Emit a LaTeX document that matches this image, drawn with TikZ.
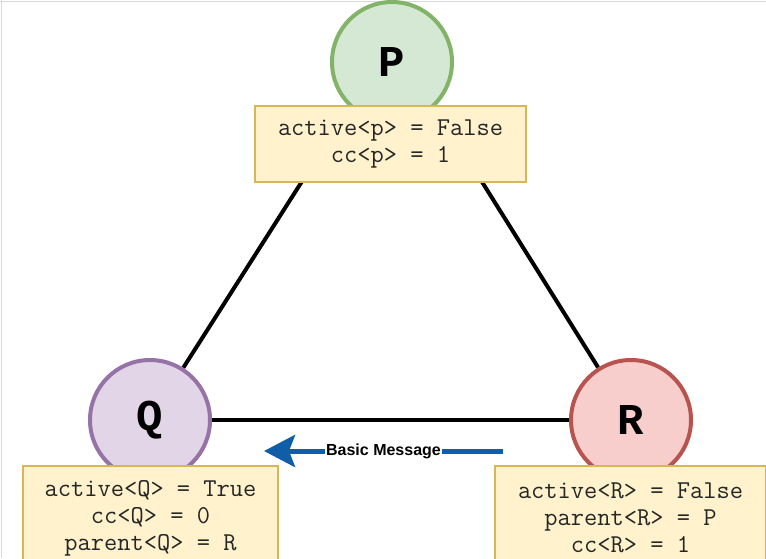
\documentclass[tikz,border=0pt]{standalone}
\usepackage{fontspec}
\setmainfont{Liberation Sans}
\newfontfamily\cour{Liberation Mono}
\usetikzlibrary{arrows.meta,backgrounds}
\definecolor{pfill}{HTML}{D5E8D4}\definecolor{pdraw}{HTML}{82B366}
\definecolor{qfill}{HTML}{E1D5E7}\definecolor{qdraw}{HTML}{9673A6}
\definecolor{rfill}{HTML}{F8CECC}\definecolor{rdraw}{HTML}{B85450}
\definecolor{bfill}{HTML}{FFF2CC}\definecolor{bdraw}{HTML}{D6B656}
\definecolor{msgblue}{RGB}{17,94,168}
\tikzset{
  proc/.style={circle, line width=4pt, minimum size=120pt, inner sep=0pt,
    font=\cour\bfseries\fontsize{44}{44}\selectfont, text=black},
  statebox/.style={draw=bdraw, fill=bfill, line width=1.2pt, inner sep=0pt,
    align=center, text=black!85, font=\ttfamily\fontsize{25.7}{27}\selectfont},
  link/.style={line width=4pt, black},
  msg/.style={line width=5pt, msgblue, -{Stealth[length=31pt,width=32pt,inset=6pt]}},
  msglabel/.style={fill=white, inner sep=1pt, text=black,
    font=\bfseries\fontsize{16}{17}\selectfont}
}
\begin{document}
\begin{tikzpicture}[x=1pt,y=-1pt]
\useasboundingbox (0,0) rectangle (766,558);
\clip (0,0) rectangle (766,558);
\node[proc, fill=pfill, draw=pdraw] (p) at (392,62) {P};
\node[proc, fill=qfill, draw=qdraw] (q) at (150,420) {Q};
\node[proc, fill=rfill, draw=rdraw] (r) at (631,420) {R};
\begin{pgfonlayer}{background}
\fill[white] (0,0) rectangle (766,558);
\draw[black!15, line width=1pt] (0,1) -- (766,1);
\draw[black!15, line width=1pt] (1,0) -- (1,558);
\draw[link] (q) -- ([xshift=-14pt]p.center);
\draw[link] (r) -- ([xshift=15pt]p.center);
\draw[link] (q) -- (r);
\end{pgfonlayer}
\node[statebox, minimum width=271pt, minimum height=76pt] (pbox) at (390.5,144)
  {active<p> = False\\cc<p> = 1};
\node[statebox, minimum width=255pt, minimum height=104pt] (qbox) at (150.5,518)
  {active<Q> = True\\cc<Q> = 0\\parent<Q> = R};
\node[statebox, minimum width=271pt, minimum height=104pt] (rbox) at (630.5,518)
  {active<R> = False\\parent<R> = P\\cc<R> = 1};
\coordinate (ms) at (503,451);
\coordinate (me) at (264,451);
\draw[msg] (ms) -- (me) node[midway, msglabel] (ml) {Basic Message};
\end{tikzpicture}
\end{document}
